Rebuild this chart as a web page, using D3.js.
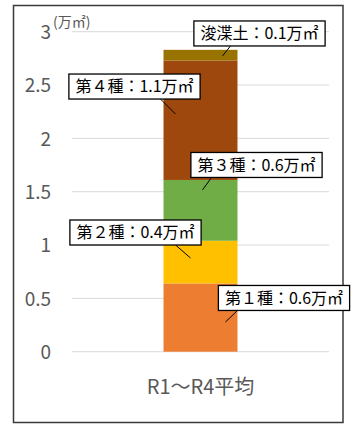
<!DOCTYPE html>
<html>
<head>
<meta charset="utf-8">
<script src="https://cdn.jsdelivr.net/npm/d3@7"></script>
<style>
  html, body { margin: 0; padding: 0; background: #fff; }
  svg { display: block; }
  text { font-family: "Noto Sans CJK JP", "Noto Sans", sans-serif; }
</style>
</head>
<body>
<svg id="chart" width="358" height="428"></svg>
<script>
// Stacked volume by category (unit: 万㎡)
const categories = ["R1～R4平均"];
const seriesNames = ["第１種", "第２種", "第３種", "第４種", "浚渫土"];
const seriesValues = [0.64, 0.40, 0.57, 1.12, 0.1];
const seriesColors = ["#ED7D31", "#FFC000", "#70AD47", "#9E480E", "#997300"];
const yTicks = [0, 0.5, 1, 1.5, 2, 2.5, 3];
const unitLabel = "(万㎡)";

// Callout placement for each segment label (pixel offsets)
// a*: anchor point offset from segment centre, b*: box centre from anchor, lx: leader end x from anchor
const calloutLayout = [
  { ax: 25,  ay: 4.4,   bx: 58.5, by: -24,   lx: 12 },
  { ax: -10, ay: -4.1,  bx: -55,  by: -25.5, lx: -15 },
  { ax: 2,   ay: -20.4, bx: 54,   by: -25,   lx: 9 },
  { ax: -25, ay: -6.2,  bx: -41,  by: -27.5, lx: -15 },
  { ax: 22,  ay: 0.8,   bx: 37,   by: -22.5, lx: 8 }
];

const svg = d3.select("#chart");
const W = 358, H = 428;
const plot = { left: 72, right: 329, top: 31.7, bottom: 351.7 };

// outer frame
svg.append("rect")
  .attr("x", 13.5).attr("y", 5.5)
  .attr("width", 329.5).attr("height", 417)
  .attr("fill", "#fff").attr("stroke", "#3a3a3a").attr("stroke-width", 1.5);

const x = d3.scaleBand().domain(categories)
  .range([plot.left, plot.right]).paddingInner(0.553).paddingOuter(0.553);
const y = d3.scaleLinear().domain([0, 3]).range([plot.bottom, plot.top]);

// gridlines
svg.append("g").selectAll("line").data(yTicks).join("line")
  .attr("x1", plot.left).attr("x2", plot.right)
  .attr("y1", d => y(d)).attr("y2", d => y(d))
  .attr("stroke", "#D9D9D9").attr("stroke-width", 1);

// y axis labels
const yAxis = d3.axisLeft(y).tickValues(yTicks).tickSize(0).tickPadding(0)
  .tickFormat(d3.format("~g"));
const yg = svg.append("g").attr("transform", "translate(51,0)").call(yAxis);
yg.select(".domain").remove();
yg.selectAll("text")
  .attr("fill", "#595959").attr("font-size", 19)
  .attr("font-family", "'DejaVu Sans', sans-serif")
  .attr("dy", "0.36em");

// unit label
svg.append("text")
  .attr("x", 53).attr("y", 27)
  .attr("fill", "#595959").attr("font-size", 14)
  .text(unitLabel);

// x axis label
const xAxis = d3.axisBottom(x).tickSize(0).tickPadding(0);
const xg = svg.append("g").attr("transform", `translate(0,${plot.bottom})`).call(xAxis);
xg.select(".domain").remove();
xg.selectAll("text")
  .attr("fill", "#595959").attr("font-size", 20)
  .attr("dy", "0").attr("y", 42);

// stacked segments
const rows = [Object.fromEntries([["cat", categories[0]], ...seriesNames.map((n, i) => [n, seriesValues[i]])])];
const stacked = d3.stack().keys(seriesNames)(rows);

svg.append("g").selectAll("rect").data(stacked).join("rect")
  .attr("x", x(categories[0]))
  .attr("width", x.bandwidth())
  .attr("y", s => y(s[0][1]))
  .attr("height", s => y(s[0][0]) - y(s[0][1]))
  .attr("fill", (s, i) => seriesColors[i]);

// callout labels
const fmt = d3.format(".1f");
const cx = x(categories[0]) + x.bandwidth() / 2;
const boxH = 25;
const labels = svg.append("g");
stacked.forEach((s, i) => {
  const L = calloutLayout[i];
  const mid = y((s[0][0] + s[0][1]) / 2);
  const axp = cx + L.ax, ayp = mid + L.ay;
  const bcx = axp + L.bx, bcy = ayp + L.by;
  const g = labels.append("g");
  g.append("line")
    .attr("x1", axp).attr("y1", ayp)
    .attr("x2", axp + L.lx).attr("y2", bcy + boxH / 2)
    .attr("stroke", "#000").attr("stroke-width", 1);
  const rect = g.append("rect");
  const t = g.append("text")
    .attr("x", bcx).attr("y", bcy + 5.6)
    .attr("text-anchor", "middle")
    .attr("font-size", 16).attr("fill", "#000")
    .text(`${seriesNames[i]}：${fmt(s[0][1] - s[0][0])}万㎡`);
  const tw = t.node().getComputedTextLength();
  const bw = tw + 13;
  rect.attr("x", bcx - bw / 2).attr("y", bcy - boxH / 2)
    .attr("width", bw).attr("height", boxH)
    .attr("fill", "#fff").attr("stroke", "#000").attr("stroke-width", 1.3);
});
</script>
</body>
</html>
